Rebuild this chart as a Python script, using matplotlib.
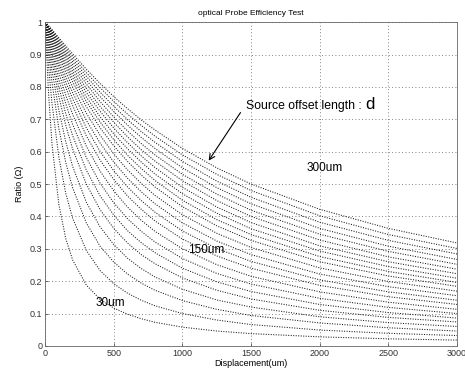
import matplotlib
matplotlib.use("Agg")
import matplotlib.pyplot as plt

# displacement sample points (um)
displacement = [0, 25, 50, 100, 150, 200, 300, 400, 500, 600, 700, 800, 1000, 1250, 1500, 2000, 2500, 3000]

# ratio curves, top curve (largest offset) first
ratio = [
    [1.0, 0.989, 0.977, 0.952, 0.927, 0.902, 0.855, 0.811, 0.770, 0.733, 0.698, 0.667, 0.610, 0.550, 0.500, 0.422, 0.363, 0.318],
    [1.0, 0.988, 0.975, 0.948, 0.921, 0.894, 0.844, 0.798, 0.755, 0.716, 0.681, 0.648, 0.590, 0.530, 0.480, 0.402, 0.344, 0.301],
    [1.0, 0.987, 0.973, 0.943, 0.914, 0.886, 0.833, 0.784, 0.740, 0.699, 0.662, 0.629, 0.570, 0.509, 0.459, 0.382, 0.326, 0.284],
    [1.0, 0.986, 0.971, 0.939, 0.908, 0.878, 0.821, 0.770, 0.724, 0.682, 0.644, 0.610, 0.550, 0.489, 0.439, 0.363, 0.308, 0.267],
    [1.0, 0.985, 0.968, 0.934, 0.901, 0.869, 0.809, 0.755, 0.707, 0.664, 0.625, 0.590, 0.530, 0.469, 0.419, 0.345, 0.292, 0.252],
    [1.0, 0.984, 0.966, 0.929, 0.894, 0.859, 0.796, 0.740, 0.691, 0.646, 0.606, 0.571, 0.510, 0.449, 0.400, 0.327, 0.275, 0.237],
    [1.0, 0.982, 0.963, 0.924, 0.886, 0.849, 0.783, 0.725, 0.673, 0.628, 0.587, 0.551, 0.490, 0.429, 0.381, 0.309, 0.260, 0.223],
    [1.0, 0.981, 0.960, 0.918, 0.877, 0.839, 0.769, 0.708, 0.655, 0.609, 0.568, 0.531, 0.470, 0.410, 0.362, 0.293, 0.245, 0.209],
    [1.0, 0.979, 0.957, 0.912, 0.868, 0.828, 0.755, 0.692, 0.637, 0.589, 0.548, 0.511, 0.450, 0.390, 0.344, 0.276, 0.230, 0.196],
    [1.0, 0.978, 0.953, 0.905, 0.859, 0.816, 0.739, 0.674, 0.618, 0.570, 0.528, 0.491, 0.430, 0.371, 0.326, 0.260, 0.216, 0.184],
    [1.0, 0.975, 0.948, 0.896, 0.846, 0.800, 0.719, 0.651, 0.593, 0.544, 0.502, 0.465, 0.405, 0.348, 0.304, 0.241, 0.199, 0.169],
    [1.0, 0.973, 0.943, 0.885, 0.832, 0.783, 0.697, 0.627, 0.568, 0.518, 0.476, 0.439, 0.380, 0.324, 0.282, 0.222, 0.183, 0.155],
    [1.0, 0.970, 0.937, 0.874, 0.816, 0.764, 0.674, 0.601, 0.541, 0.491, 0.449, 0.413, 0.355, 0.301, 0.261, 0.204, 0.167, 0.141],
    [1.0, 0.966, 0.930, 0.861, 0.799, 0.743, 0.649, 0.574, 0.514, 0.463, 0.422, 0.386, 0.330, 0.278, 0.240, 0.187, 0.152, 0.128],
    [1.0, 0.961, 0.920, 0.844, 0.775, 0.716, 0.617, 0.540, 0.479, 0.429, 0.388, 0.354, 0.300, 0.251, 0.215, 0.167, 0.135, 0.113],
    [1.0, 0.955, 0.909, 0.823, 0.749, 0.685, 0.582, 0.503, 0.442, 0.393, 0.354, 0.321, 0.270, 0.224, 0.191, 0.147, 0.119, 0.100],
    [1.0, 0.948, 0.895, 0.799, 0.718, 0.650, 0.543, 0.464, 0.404, 0.356, 0.319, 0.288, 0.240, 0.198, 0.168, 0.128, 0.103, 0.086],
    [1.0, 0.939, 0.878, 0.770, 0.682, 0.609, 0.500, 0.421, 0.363, 0.318, 0.282, 0.254, 0.210, 0.172, 0.145, 0.110, 0.088, 0.074],
    [1.0, 0.925, 0.851, 0.728, 0.631, 0.555, 0.444, 0.368, 0.313, 0.271, 0.239, 0.213, 0.175, 0.142, 0.120, 0.090, 0.072, 0.060],
    [1.0, 0.904, 0.814, 0.672, 0.567, 0.489, 0.380, 0.308, 0.259, 0.222, 0.194, 0.172, 0.140, 0.113, 0.094, 0.071, 0.056, 0.046],
    [1.0, 0.865, 0.750, 0.583, 0.472, 0.395, 0.295, 0.233, 0.192, 0.163, 0.141, 0.124, 0.100, 0.080, 0.066, 0.049, 0.039, 0.032],
    [1.0, 0.781, 0.624, 0.437, 0.332, 0.266, 0.188, 0.144, 0.117, 0.098, 0.084, 0.073, 0.058, 0.046, 0.038, 0.028, 0.022, 0.018],
]

xticks = [0, 500, 1000, 1500, 2000, 2500, 3000]
yticks = [0, 0.1, 0.2, 0.3, 0.4, 0.5, 0.6, 0.7, 0.8, 0.9, 1]
ytick_labels = ["0", "0.1", "0.2", "0.3", "0.4", "0.5", "0.6", "0.7", "0.8", "0.9", "1"]

plt.rcParams['font.family'] = ['Liberation Sans', 'DejaVu Sans']

fig = plt.figure(figsize=(4.65, 3.76), dpi=100)
ax = fig.add_axes([0.097, 0.080, 0.886, 0.861])

for r in ratio:
    ax.plot(displacement, r, color='0.1', linestyle=(0, (1, 1.4)), linewidth=0.75)

ax.set_xlim(0, 3000)
ax.set_ylim(0, 1)
ax.set_xticks(xticks)
ax.set_yticks(yticks)
ax.set_yticklabels(ytick_labels)
ax.tick_params(labelsize=6.5, length=2, width=0.5, direction='in', pad=2, colors='0.2')
ax.grid(True, linestyle=(0, (1, 3)), linewidth=0.6, color='0.35')
for s in ax.spines.values():
    s.set_linewidth(0.6)
    s.set_color('0.4')

ax.set_title("optical Probe Efficiency Test", fontsize=6, pad=5)
ax.set_xlabel("Displacement(um)", fontsize=6.5, labelpad=1)
ax.set_ylabel("Ratio (\u03a9)", fontsize=6.5, labelpad=4)

ax.text(1460, 0.74, "Source offset length :", fontsize=8.8, va='center')
ax.text(2330, 0.745, "d", fontsize=12, va='center')
ax.annotate("", xy=(1180, 0.565), xytext=(1434, 0.728),
            arrowprops=dict(arrowstyle='->', color='black', lw=0.8))
ax.text(2039, 0.549, "300um", fontsize=8.5, ha='center', va='center')
ax.text(1172, 0.296, "150um", fontsize=8.5, ha='center', va='center')
ax.text(473, 0.133, "30um", fontsize=8.5, ha='center', va='center')

fig.savefig("out.png", dpi=100)
